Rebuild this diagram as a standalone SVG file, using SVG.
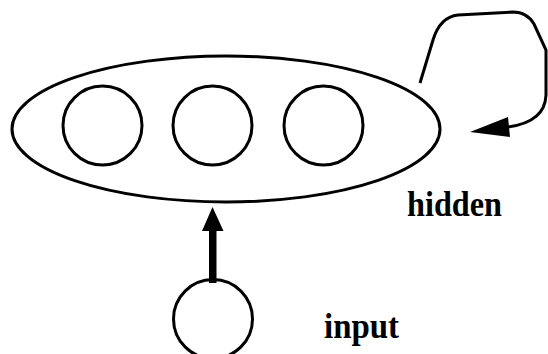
<svg xmlns="http://www.w3.org/2000/svg" width="548" height="354" viewBox="0 0 548 354">
<style>
.sh{fill:none;stroke:#000;stroke-width:3}
.lbl{font-family:"Liberation Serif",serif;font-weight:bold;font-size:35px;fill:#000}
</style>
<rect width="548" height="354" fill="#fff"/>
<g id="hidden">
<ellipse class="sh" cx="226" cy="129" rx="214" ry="73"/>
<circle class="sh" cx="102.5" cy="125.5" r="39.5"/>
<circle class="sh" cx="212.5" cy="125.5" r="39.5"/>
<circle class="sh" cx="323.5" cy="125.5" r="39.5"/>
<text class="lbl" x="407" y="216" textLength="95" lengthAdjust="spacingAndGlyphs">hidden</text>
</g>
<g id="input">
<circle class="sh" cx="213" cy="319" r="39.5"/>
<text class="lbl" x="324" y="338" textLength="75" lengthAdjust="spacingAndGlyphs">input</text>
</g>
<g id="connectors">
<path class="sh" d="M420,83 L433,40 Q440,17 458,15 L513,12 Q527,12 534,24 L546,50 L546,95 Q545,122 508,127"/>
<polygon points="470,132 508,117 510,137" fill="#000"/>
<rect x="209" y="228" width="7.5" height="55" fill="#000"/>
<polygon points="212.5,207 202,231 223.5,231" fill="#000"/>
</g>
</svg>
